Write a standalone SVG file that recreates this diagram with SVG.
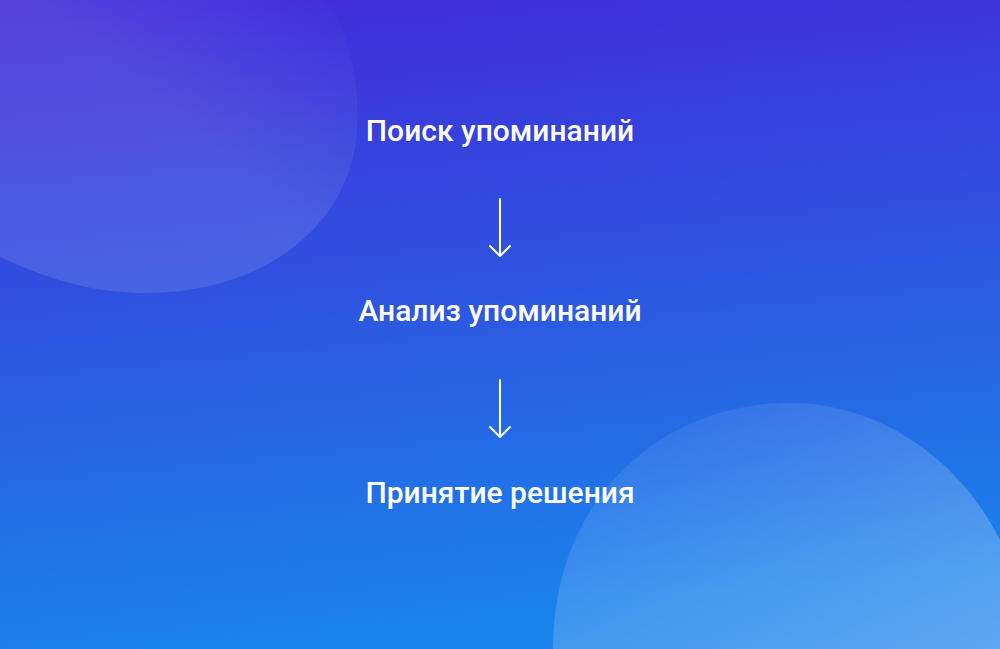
<svg xmlns="http://www.w3.org/2000/svg" width="1000" height="649" viewBox="0 0 1000 649">
<defs>
<linearGradient id="bg" x1="0" y1="0" x2="0.15" y2="1">
<stop offset="0" stop-color="#4229d9"/>
<stop offset="0.5" stop-color="#2e55e0"/>
<stop offset="1" stop-color="#1a82ec"/>
</linearGradient>
<linearGradient id="b1" x1="1" y1="0" x2="0.55" y2="0.45">
<stop offset="0" stop-color="#ffffff" stop-opacity="0"/>
<stop offset="1" stop-color="#ffffff" stop-opacity="0.11"/>
</linearGradient>
<linearGradient id="b2" x1="0.2" y1="0" x2="1" y2="1">
<stop offset="0" stop-color="#ffffff" stop-opacity="0.05"/>
<stop offset="1" stop-color="#ffffff" stop-opacity="0.3"/>
</linearGradient>
<style>
.t{font-family:Roboto,"Liberation Sans",sans-serif;font-weight:500;font-size:30px;fill:#ffffff;text-anchor:middle}
.c{stroke:#ffffff;stroke-width:2;fill:none;stroke-linecap:round;stroke-linejoin:round}
</style>
</defs>
<rect width="1000" height="649" fill="url(#bg)"/>
<path d="M0,257 C60,285 105,293 145,293 C270,293 352,220 357,130 C360,70 345,25 325,0 L0,0 Z" fill="url(#b1)"/>
<path d="M553,649 C553,500 660,403 790,403 C880,403 960,460 1000,540 L1000,649 Z" fill="url(#b2)"/>
<g id="n1"><text class="t" x="500" y="141">Поиск упоминаний</text></g>
<g id="n2"><text class="t" x="500" y="321">Анализ упоминаний</text></g>
<g id="n3"><text class="t" x="500" y="503">Принятие решения</text></g>
<g id="connectors">
<path class="c" d="M500,199 V256 M490,246 L500,256 L510,246"/>
<path class="c" d="M500,380 V437 M490,427 L500,437 L510,427"/>
</g>
</svg>
